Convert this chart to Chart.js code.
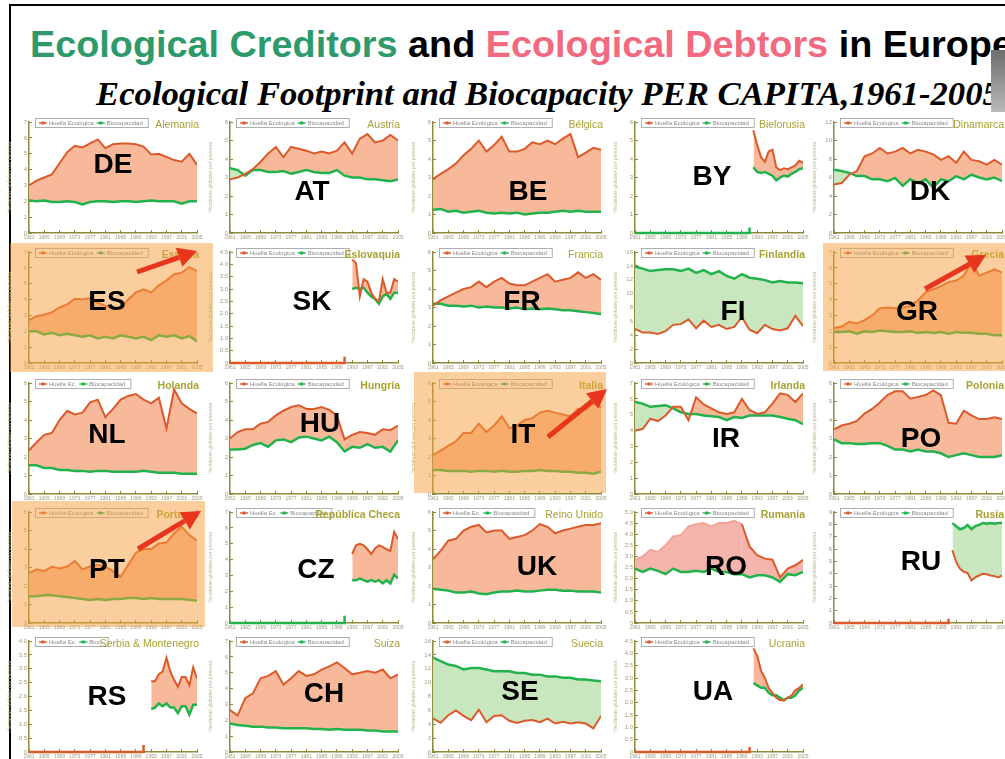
<!DOCTYPE html>
<html>
<head>
<meta charset="utf-8">
<script src="https://cdn.jsdelivr.net/npm/chart.js@4.4.0/dist/chart.umd.min.js"></script>
<style>
  html, body { margin: 0; padding: 0; background: #fff; }
  body { width: 1005px; height: 759px; overflow: hidden; position: relative; font-family: "Liberation Sans", Arial, sans-serif; }
  #frame { position: absolute; left: 9px; top: 4px; width: 1010px; height: 770px; border-left: 2px solid #000; border-top: 2px solid #000; }
  #title { position: absolute; left: 30px; top: 26px; font-weight: bold; font-size: 37.8px; line-height: 37px; white-space: nowrap; }
  #title .cred { color: #2e9a6c; }
  #title .debt { color: #f26a80; }
  #subtitle { position: absolute; left: 96px; top: 76px; font-family: "Liberation Serif", "Times New Roman", serif; font-style: italic; font-weight: bold; font-size: 34.7px; line-height: 35px; white-space: nowrap; }
  #tab { position: absolute; left: 991px; top: 50px; width: 14px; height: 62px; background: linear-gradient(#6e6e6e, #b8b8b8); }
</style>
</head>
<body>
<div id="frame"></div>
<div id="title"><span class="cred">Ecological Creditors</span> and <span class="debt">Ecological Debtors</span> in Europe</div>
<div id="subtitle">Ecological Footprint and Biocapacity PER CAPITA,1961-2005</div>
<div id="tab"></div>

<script>
// years (long series sampled every 2 years, short series yearly from 1992)
const longYears = [1961, 1963, 1965, 1967, 1969, 1971, 1973, 1975, 1977, 1979, 1981, 1983, 1985, 1987, 1989, 1991, 1993, 1995, 1997, 1999, 2001, 2003, 2005];
const shortYears = [1992, 1993, 1994, 1995, 1996, 1997, 1998, 1999, 2000, 2001, 2002, 2003, 2004, 2005];
const zeroYears = [1961, 1991, 1991];
const yearTicks = [1961, 1965, 1969, 1973, 1977, 1981, 1985, 1989, 1993, 1997, 2001, 2005];

// Huella Ecológica (footprint) and Biocapacidad, global hectares per person
const deFootprint = [3.0, 3.3, 3.5, 3.7, 4.4, 5.1, 5.5, 5.4, 5.65, 5.9, 5.35, 5.6, 5.65, 5.65, 5.6, 5.45, 4.95, 5.0, 4.8, 4.6, 4.5, 5.0, 4.3];
const deBiocap    = [2.05, 2.0, 2.05, 1.95, 1.95, 2.0, 1.95, 1.8, 1.95, 2.0, 2.0, 1.95, 2.0, 2.0, 1.95, 2.0, 2.05, 2.0, 2.0, 2.0, 1.85, 2.0, 2.0];
const atFootprint = [2.9, 3.0, 3.2, 3.45, 3.85, 4.3, 4.65, 4.1, 4.65, 4.55, 4.45, 4.3, 4.4, 4.3, 4.45, 4.9, 4.3, 5.1, 5.35, 4.9, 5.0, 5.3, 5.0];
const atBiocap    = [3.5, 3.4, 3.1, 3.4, 3.4, 3.3, 3.3, 3.35, 3.2, 3.3, 3.4, 3.3, 3.25, 3.25, 3.4, 3.1, 3.0, 3.0, 2.9, 2.9, 2.85, 2.8, 2.9];
const beFootprint = [2.9, 3.2, 3.45, 3.75, 4.2, 4.55, 5.0, 4.4, 4.75, 5.2, 4.4, 4.4, 4.55, 4.9, 4.8, 5.0, 4.8, 5.1, 5.35, 4.1, 4.35, 4.6, 4.5];
const beBiocap    = [1.25, 1.3, 1.15, 1.2, 1.1, 1.15, 1.2, 1.1, 1.05, 1.1, 1.05, 1.1, 1.0, 1.05, 1.1, 1.1, 1.15, 1.2, 1.15, 1.2, 1.15, 1.15, 1.15];
const byFootprint = [5.55, 4.75, 4.1, 3.85, 4.4, 4.5, 3.55, 3.4, 3.5, 3.45, 3.55, 3.65, 3.9, 3.8];
const byBiocap    = [3.55, 3.3, 3.25, 3.3, 3.2, 3.1, 2.85, 3.0, 3.1, 3.05, 3.2, 3.3, 3.45, 3.5];
const byZero      = [0, 0, 0.3];
const dkFootprint = [5.25, 5.4, 6.3, 6.7, 8.3, 8.6, 9.2, 8.6, 8.8, 9.2, 8.6, 9.0, 8.8, 8.5, 7.9, 8.3, 7.6, 8.8, 7.9, 7.75, 7.4, 7.9, 7.4];
const dkBiocap    = [6.85, 6.7, 6.5, 6.15, 6.15, 5.8, 5.8, 5.6, 5.95, 5.1, 5.8, 5.4, 5.8, 4.9, 5.8, 5.6, 6.15, 5.8, 6.3, 6.0, 5.8, 6.0, 5.6];

const esFootprint = [2.7, 2.95, 3.05, 3.2, 3.5, 3.7, 4.05, 4.0, 4.1, 3.8, 3.6, 3.5, 3.45, 4.0, 4.45, 4.65, 4.45, 4.9, 5.2, 5.6, 5.7, 6.05, 5.8];
const esBiocap    = [2.0, 2.0, 1.8, 1.9, 1.75, 1.85, 1.75, 1.65, 1.75, 1.55, 1.65, 1.55, 1.75, 1.65, 1.55, 1.65, 1.45, 1.75, 1.65, 1.75, 1.55, 1.7, 1.35];
const skFootprint = [null, 4.2, 4.05, 2.7, 3.4, 3.3, 2.85, 2.6, 2.5, 3.4, 2.85, 2.85, 3.4, 3.3];
const skBiocap    = [null, 3.0, 3.05, 3.0, 3.05, 2.85, 2.7, 2.6, 2.4, 2.7, 2.8, 2.6, 2.85, 2.85];
const skZero      = [0, 0, 0.25];
const frFootprint = [3.1, 3.4, 3.6, 3.8, 4.0, 4.1, 4.4, 4.1, 4.4, 4.6, 4.3, 4.2, 4.2, 4.4, 4.6, 4.8, 4.4, 4.5, 4.6, 4.9, 4.6, 4.8, 4.5];
const frBiocap    = [3.2, 3.2, 3.1, 3.1, 3.05, 3.1, 3.0, 3.05, 3.0, 3.0, 2.95, 3.0, 2.9, 2.95, 2.9, 2.95, 2.9, 2.85, 2.85, 2.8, 2.75, 2.7, 2.65];
const fiFootprint = [4.9, 4.4, 4.4, 4.2, 4.6, 5.5, 5.6, 6.3, 5.0, 6.1, 5.2, 5.5, 4.9, 5.2, 6.6, 4.8, 4.3, 5.5, 4.9, 4.7, 5.0, 6.8, 5.3];
const fiBiocap    = [13.9, 13.6, 13.25, 13.4, 13.5, 13.5, 13.25, 13.6, 13.0, 13.4, 12.8, 13.25, 12.55, 12.15, 12.8, 12.3, 12.15, 11.95, 11.6, 11.8, 11.6, 11.6, 11.5];
const grFootprint = [2.2, 2.3, 2.6, 2.5, 2.7, 3.0, 3.45, 3.5, 3.45, 3.5, 3.6, 3.95, 4.45, 4.65, 4.85, 5.1, 5.2, 5.5, 6.4, 5.5, 5.7, 5.9, 5.7];
const grBiocap    = [1.95, 1.95, 2.0, 1.85, 2.0, 1.95, 2.05, 2.0, 1.95, 1.95, 2.0, 1.9, 1.95, 1.9, 1.95, 1.85, 1.95, 1.9, 1.9, 1.85, 1.85, 1.75, 1.75];

const nlFootprint = [2.35, 2.8, 3.2, 3.3, 4.0, 4.5, 4.3, 4.4, 4.95, 5.1, 4.15, 4.6, 5.1, 5.3, 5.4, 5.1, 4.9, 5.2, 3.55, 5.65, 4.9, 4.6, 4.35];
const nlBiocap    = [1.55, 1.55, 1.4, 1.4, 1.3, 1.3, 1.25, 1.25, 1.2, 1.25, 1.25, 1.2, 1.2, 1.2, 1.2, 1.25, 1.2, 1.15, 1.15, 1.15, 1.1, 1.1, 1.1];
const huFootprint = [3.0, 3.35, 3.5, 3.5, 3.8, 3.9, 4.25, 4.5, 4.7, 4.8, 4.6, 4.6, 4.7, 4.55, 4.25, 2.95, 3.2, 3.35, 3.3, 3.2, 3.5, 3.45, 3.7];
const huBiocap    = [2.4, 2.4, 2.45, 2.65, 2.75, 2.55, 2.9, 2.95, 2.8, 3.05, 3.1, 3.0, 2.9, 3.1, 2.8, 2.3, 2.55, 2.5, 2.7, 2.5, 2.55, 2.3, 2.9];
const itFootprint = [2.1, 2.35, 2.6, 2.85, 3.3, 3.3, 3.8, 3.35, 3.7, 4.2, 3.55, 3.7, 4.0, 4.1, 4.4, 4.5, 4.4, 4.3, 4.2, 4.6, 4.55, 4.9, 4.7];
const itBiocap    = [1.3, 1.3, 1.25, 1.25, 1.25, 1.2, 1.25, 1.25, 1.2, 1.25, 1.2, 1.2, 1.25, 1.25, 1.3, 1.25, 1.25, 1.2, 1.2, 1.15, 1.15, 1.1, 1.2];
const irFootprint = [4.0, 4.1, 4.75, 4.6, 4.95, 5.5, 5.5, 4.65, 6.1, 5.65, 5.4, 5.15, 5.05, 5.15, 6.0, 5.3, 5.05, 5.15, 5.7, 6.35, 6.25, 5.8, 6.35];
const irBiocap    = [5.8, 5.7, 5.5, 5.55, 5.6, 5.4, 5.15, 5.05, 5.05, 4.95, 4.9, 4.85, 4.65, 4.85, 4.8, 4.95, 4.95, 4.95, 4.95, 4.85, 4.75, 4.65, 4.4];
const poFootprint = [3.5, 3.7, 3.8, 3.95, 4.35, 4.6, 4.95, 5.35, 5.55, 5.55, 5.15, 5.25, 5.35, 5.6, 5.35, 3.85, 3.8, 4.5, 4.25, 4.05, 4.05, 4.15, 4.05];
const poBiocap    = [2.95, 2.75, 2.75, 2.7, 2.7, 2.75, 2.75, 2.6, 2.4, 2.4, 2.3, 2.4, 2.3, 2.3, 2.2, 2.0, 2.1, 2.2, 2.1, 2.0, 2.0, 2.0, 2.1];

const ptFootprint = [2.7, 2.9, 2.8, 3.05, 2.95, 3.05, 3.35, 2.9, 3.05, 3.15, 3.05, 2.8, 2.5, 3.15, 3.8, 4.0, 4.0, 4.3, 4.35, 4.85, 5.2, 4.75, 4.45];
const ptBiocap    = [1.45, 1.45, 1.5, 1.5, 1.45, 1.4, 1.35, 1.3, 1.25, 1.3, 1.25, 1.3, 1.3, 1.35, 1.35, 1.3, 1.35, 1.3, 1.3, 1.3, 1.3, 1.25, 1.2];
const czFootprint = [null, 4.35, 4.9, 5.0, 4.9, 4.65, 4.35, 4.7, 4.9, 4.8, 4.65, 4.55, 5.75, 5.3];
const czBiocap    = [null, 2.7, 2.7, 2.8, 2.7, 2.6, 2.7, 2.6, 2.7, 2.5, 2.7, 2.5, 3.05, 2.8];
const czZero      = [0, 0, 0.45];
const ukFootprint = [3.45, 3.9, 4.45, 4.55, 5.0, 5.2, 5.3, 4.9, 5.0, 5.0, 4.55, 4.65, 4.75, 5.0, 5.35, 5.2, 4.85, 5.0, 5.1, 5.2, 5.3, 5.3, 5.4];
const ukBiocap    = [1.85, 1.8, 1.75, 1.65, 1.65, 1.7, 1.6, 1.55, 1.65, 1.7, 1.7, 1.75, 1.7, 1.7, 1.75, 1.8, 1.8, 1.75, 1.75, 1.7, 1.7, 1.7, 1.65];
const roFootprint = [2.85, 3.0, 3.3, 3.2, 3.5, 3.9, 3.95, 4.35, 4.45, 4.5, 4.35, 4.5, 4.5, 4.6, 4.45, 3.45, 3.05, 2.9, 2.85, 2.05, 2.45, 2.6, 2.85];
const roBiocap    = [2.45, 2.3, 2.45, 2.35, 2.2, 2.45, 2.3, 2.3, 2.35, 2.3, 2.45, 2.3, 2.3, 2.2, 2.2, 2.05, 2.15, 2.15, 2.05, 1.85, 2.2, 2.15, 2.3];
const ruFootprint = [5.9, 4.95, 4.4, 4.15, 4.05, 3.45, 3.7, 3.85, 4.0, 3.95, 3.85, 3.8, 3.7, 3.85];
const ruBiocap    = [8.1, 7.85, 7.6, 7.7, 7.95, 7.6, 7.85, 7.95, 8.1, 8.05, 8.1, 8.05, 8.1, 8.1];
const ruZero      = [0, 0, 0.35];

const rsFootprint = [null, 2.55, 2.55, 2.8, 2.9, 3.4, 2.9, 2.6, 2.35, 2.7, 2.7, 2.4, 3.05, 2.65];
const rsBiocap    = [null, 1.55, 1.6, 1.75, 1.65, 1.75, 1.6, 1.6, 1.4, 1.65, 1.65, 1.35, 1.7, 1.7];
const rsZero      = [0, 0, 0.25];
const chFootprint = [2.65, 2.3, 3.4, 3.7, 4.65, 4.8, 5.1, 4.25, 4.65, 5.1, 4.8, 4.9, 5.2, 5.4, 5.65, 5.3, 4.9, 5.0, 5.1, 5.0, 5.2, 4.65, 4.9];
const chBiocap    = [1.8, 1.7, 1.65, 1.6, 1.6, 1.55, 1.55, 1.5, 1.5, 1.5, 1.5, 1.45, 1.45, 1.4, 1.45, 1.4, 1.4, 1.4, 1.35, 1.35, 1.3, 1.3, 1.3];
const seFootprint = [4.85, 4.2, 5.3, 6.0, 5.2, 4.6, 6.1, 4.3, 5.2, 5.3, 4.5, 4.2, 4.5, 4.6, 4.3, 4.8, 4.1, 4.35, 4.1, 4.3, 4.1, 3.4, 5.2];
const seBiocap    = [13.6, 13.1, 12.6, 12.4, 11.9, 12.1, 12.1, 11.9, 11.65, 11.65, 11.65, 11.4, 11.4, 11.15, 11.15, 10.9, 10.9, 10.7, 10.7, 10.45, 10.45, 10.3, 10.2];
const uaFootprint = [4.2, 3.9, 3.3, 3.0, 2.6, 2.4, 2.2, 2.1, 2.1, 2.2, 2.3, 2.5, 2.6, 2.75];
const uaBiocap    = [2.8, 2.7, 2.6, 2.6, 2.4, 2.3, 2.3, 2.2, 2.1, 2.2, 2.2, 2.3, 2.5, 2.6];
const uaZero      = [0, 0, 0.2];

const legendFull = ['Huella Ecológica', 'Biocapacidad'];
const legendShort = ['Huella Ec.', 'Biocapacidad'];
const legendTiny = ['Huella Ec.', 'Bioc.'];

// layout of the grid (page pixels)
const colX = [29, 230, 433, 635, 834];     // left edge of each plot area
const rowTop = [122, 252, 383, 512, 641];  // top edge of each plot area

const RED = '#dc5a2a', GREEN = '#22b24c', SALMON = '#f8b99b', MINT = '#c9e7bf';
const AXIS = '#8e8a3c', OLIVE = '#a9a232';

const panels = [
  { code: 'DE', name: 'Alemania', fp: deFootprint, bc: deBiocap, years: longYears, yMax: 7, step: 1, col: 0, row: 0, at: [113, 163] },
  { code: 'AT', name: 'Austria', fp: atFootprint, bc: atBiocap, years: longYears, yMax: 6, step: 1, col: 1, row: 0, at: [312, 190] },
  { code: 'BE', name: 'Bélgica', fp: beFootprint, bc: beBiocap, years: longYears, yMax: 6, step: 1, col: 2, row: 0, at: [528, 190] },
  { code: 'BY', name: 'Bielorusia', fp: byFootprint, bc: byBiocap, years: shortYears, yMax: 6, step: 1, col: 3, row: 0, at: [712, 175], zero: byZero, zeroColor: GREEN },
  { code: 'DK', name: 'Dinamarca', fp: dkFootprint, bc: dkBiocap, years: longYears, yMax: 12, step: 2, col: 4, row: 0, at: [930, 190] },

  { code: 'ES', name: 'España', fp: esFootprint, bc: esBiocap, years: longYears, yMax: 7, step: 1, col: 0, row: 1, at: [107, 300], bold: true,
    highlight: [10, 243, 213, 372], arrow: [137, 272, 197, 251] },
  { code: 'SK', name: 'Eslovaquia', fp: skFootprint, bc: skBiocap, years: shortYears, yMax: 4.5, step: 0.5, col: 1, row: 1, at: [312, 300], zero: skZero, zeroColor: RED, bold: true },
  { code: 'FR', name: 'Francia', fp: frFootprint, bc: frBiocap, years: longYears, yMax: 6, step: 1, col: 2, row: 1, at: [522, 300] },
  { code: 'FI', name: 'Finlandia', fp: fiFootprint, bc: fiBiocap, years: longYears, yMax: 16, step: 2, col: 3, row: 1, at: [733, 310], bold: true },
  { code: 'GR', name: 'Grecia', fp: grFootprint, bc: grBiocap, years: longYears, yMax: 7, step: 1, col: 4, row: 1, at: [917, 310], bold: true,
    highlight: [823, 243, 1005, 371], arrow: [925, 289, 986, 255] },

  { code: 'NL', name: 'Holanda', fp: nlFootprint, bc: nlBiocap, years: longYears, yMax: 6, step: 1, col: 0, row: 2, at: [107, 433], legend: legendShort, bold: true },
  { code: 'HU', name: 'Hungría', fp: huFootprint, bc: huBiocap, years: longYears, yMax: 6, step: 1, col: 1, row: 2, at: [320, 422], bold: true },
  { code: 'IT', name: 'Italia', fp: itFootprint, bc: itBiocap, years: longYears, yMax: 6, step: 1, col: 2, row: 2, at: [523, 433], bold: true,
    highlight: [414, 372, 606, 493], arrow: [548, 437, 607, 389] },
  { code: 'IR', name: 'Irlanda', fp: irFootprint, bc: irBiocap, years: longYears, yMax: 7, step: 1, col: 3, row: 2, at: [726, 437], bold: true },
  { code: 'PO', name: 'Polonia', fp: poFootprint, bc: poBiocap, years: longYears, yMax: 6, step: 1, col: 4, row: 2, at: [921, 437], bold: true },

  { code: 'PT', name: 'Portugal', fp: ptFootprint, bc: ptBiocap, years: longYears, yMax: 6, step: 1, col: 0, row: 3, at: [107, 568], bold: true,
    highlight: [12, 501, 205, 627], arrow: [138, 549, 201, 511] },
  { code: 'CZ', name: 'República Checa', fp: czFootprint, bc: czBiocap, years: shortYears, yMax: 7, step: 1, col: 1, row: 3, at: [316, 568], legend: legendShort, zero: czZero, zeroColor: GREEN, bold: true },
  { code: 'UK', name: 'Reino Unido', fp: ukFootprint, bc: ukBiocap, years: longYears, yMax: 6, step: 1, col: 2, row: 3, at: [537, 565], legend: legendShort },
  { code: 'RO', name: 'Rumania', fp: roFootprint, bc: roBiocap, years: longYears, yMax: 5, step: 0.5, col: 3, row: 3, at: [726, 565], bold: true, faintBefore: 1989, fill: '#f6b5ac' },
  { code: 'RU', name: 'Rusia', fp: ruFootprint, bc: ruBiocap, years: shortYears, yMax: 9, step: 1, col: 4, row: 3, at: [921, 560], zero: ruZero, zeroColor: RED, bold: true },

  { code: 'RS', name: 'Serbia & Montenegro', fp: rsFootprint, bc: rsBiocap, years: shortYears, yMax: 4, step: 0.5, col: 0, row: 4, at: [107, 695], legend: legendTiny, zero: rsZero, zeroColor: RED },
  { code: 'CH', name: 'Suiza', fp: chFootprint, bc: chBiocap, years: longYears, yMax: 7, step: 1, col: 1, row: 4, at: [324, 692] },
  { code: 'SE', name: 'Suecia', fp: seFootprint, bc: seBiocap, years: longYears, yMax: 16, step: 2, col: 2, row: 4, at: [520, 690] },
  { code: 'UA', name: 'Ucrania', fp: uaFootprint, bc: uaBiocap, years: shortYears, yMax: 4.5, step: 0.5, col: 3, row: 4, at: [713, 690], zero: uaZero, zeroColor: RED }
];

Chart.defaults.font.family = '"Liberation Sans", Arial, sans-serif';

function pts(years, vals) {
  return years.map((y, i) => ({ x: y, y: vals[i] }));
}

// legend box, country name, big code, highlight tint and arrow
function makeDecor(p, offX, offY) {
  return {
    id: 'decor_' + p.code,
    afterDraw(chart) {
      const ctx = chart.ctx, a = chart.chartArea;
      const labels = p.legend || legendFull;
      ctx.save();

      ctx.font = '6px "Liberation Sans", Arial, sans-serif';
      const bx = a.left + 6, by = a.top - 4;
      let bw = 6;
      labels.forEach(t => { bw += 13 + ctx.measureText(t).width; });
      ctx.fillStyle = '#fff';
      ctx.fillRect(bx, by, bw, 9);
      ctx.strokeStyle = '#9b9b9b';
      ctx.lineWidth = 0.8;
      ctx.strokeRect(bx + 0.5, by + 0.5, bw, 9);
      let cx = bx + 4;
      labels.forEach((t, i) => {
        const c = i === 0 ? RED : GREEN;
        ctx.strokeStyle = c;
        ctx.lineWidth = 1.4;
        ctx.beginPath(); ctx.moveTo(cx, by + 5); ctx.lineTo(cx + 8, by + 5); ctx.stroke();
        ctx.fillStyle = c;
        ctx.fillRect(cx + 2.5, by + 3.5, 3, 3);
        ctx.fillStyle = '#8a8a8a';
        ctx.textBaseline = 'middle';
        ctx.textAlign = 'left';
        ctx.fillText(t, cx + 10, by + 5);
        cx += 13 + ctx.measureText(t).width;
      });

      ctx.font = (p.bold ? 'bold ' : '') + '10.5px "Liberation Sans", Arial, sans-serif';
      ctx.fillStyle = OLIVE;
      ctx.textAlign = 'right';
      ctx.textBaseline = 'middle';
      ctx.fillText(p.name, a.right + 2, a.top + 3);

      if (p.highlight) {
        const h = p.highlight;
        ctx.fillStyle = 'rgba(247,160,60,0.5)';
        ctx.fillRect(h[0] - offX, h[1] - offY, h[2] - h[0], h[3] - h[1]);
      }

      ctx.font = 'bold 28px "Liberation Sans", Arial, sans-serif';
      ctx.fillStyle = '#000';
      ctx.textAlign = 'center';
      ctx.textBaseline = 'alphabetic';
      ctx.fillText(p.code, p.at[0] - offX, p.at[1] - offY + 10);

      if (p.arrow) {
        const [x0, y0, x1, y1] = p.arrow.map((v, i) => v - (i % 2 ? offY : offX));
        const ang = Math.atan2(y1 - y0, x1 - x0);
        const hl = 19, hw = 10;
        const bxh = x1 - hl * Math.cos(ang), byh = y1 - hl * Math.sin(ang);
        ctx.strokeStyle = '#e8361e';
        ctx.fillStyle = '#e8361e';
        ctx.lineWidth = 5;
        ctx.beginPath(); ctx.moveTo(x0, y0); ctx.lineTo(bxh, byh); ctx.stroke();
        ctx.beginPath();
        ctx.moveTo(x1, y1);
        ctx.lineTo(bxh + hw * Math.sin(ang), byh - hw * Math.cos(ang));
        ctx.lineTo(bxh - hw * Math.sin(ang), byh + hw * Math.cos(ang));
        ctx.closePath();
        ctx.fill();
      }
      ctx.restore();
    }
  };
}

panels.forEach(p => {
  const left = colX[p.col] - 22, top = rowTop[p.row] - 12;
  const cv = document.createElement('canvas');
  cv.width = 210; cv.height = 138;
  cv.style.cssText = 'position:absolute;left:' + left + 'px;top:' + top + 'px;width:210px;height:138px;';
  document.body.appendChild(cv);

  const fpSet = {
    label: 'Huella Ecológica',
    data: pts(p.years, p.fp),
    borderColor: RED,
    borderWidth: 2,
    pointRadius: 0,
    fill: { target: 1, above: p.fill || SALMON, below: MINT }
  };
  if (p.faintBefore) {
    fpSet.segment = { borderColor: c => c.p0.parsed.x < p.faintBefore ? '#f2a597' : RED };
  }
  const datasets = [fpSet, {
    label: 'Biocapacidad',
    data: pts(p.years, p.bc),
    borderColor: GREEN,
    borderWidth: 2.5,
    pointRadius: 0,
    fill: false
  }];
  if (p.zero) {
    // series not reported before 1992: drawn flat on the axis
    datasets.push({ label: 'zero', data: pts(zeroYears, p.zero), borderColor: p.zeroColor, borderWidth: 2.5, pointRadius: 0, fill: false, order: -1, clip: false });
  }

  new Chart(cv, {
    type: 'line',
    data: { datasets },
    options: {
      responsive: false,
      animation: false,
      events: [],
      layout: { padding: { top: 12, right: 20, left: 0, bottom: 0 } },
      plugins: {
        legend: { display: false },
        tooltip: { enabled: false },
        filler: { drawTime: 'beforeDatasetsDraw' }
      },
      scales: {
        x: {
          type: 'linear',
          min: 1961,
          max: 2005,
          afterBuildTicks: s => { s.ticks = yearTicks.map(v => ({ value: v })); },
          afterFit: s => { s.height = 15; },
          grid: { drawOnChartArea: false, color: AXIS, tickLength: -3 },
          border: { color: AXIS, width: 1.5 },
          ticks: { font: { size: 5 }, color: '#9d9b7c', padding: 5, maxRotation: 0, autoSkip: false, callback: v => String(v) }
        },
        y: {
          min: 0,
          max: p.yMax,
          afterFit: s => { s.width = 22; },
          grid: { drawOnChartArea: false, color: AXIS, tickLength: -3 },
          border: { color: AXIS, width: 1.5 },
          title: { display: true, text: 'Hectáreas globales por persona', color: '#bdb98e', font: { size: 5 }, padding: 0 },
          ticks: {
            stepSize: p.step, font: { size: 6 }, color: '#9d9b7c', padding: 5,
            callback: v => p.step < 1 ? (v === 0 ? '0' : v.toFixed(1)) : String(v)
          }
        }
      }
    },
    plugins: [makeDecor(p, left, top)]
  });
});
</script>
</body>
</html>
